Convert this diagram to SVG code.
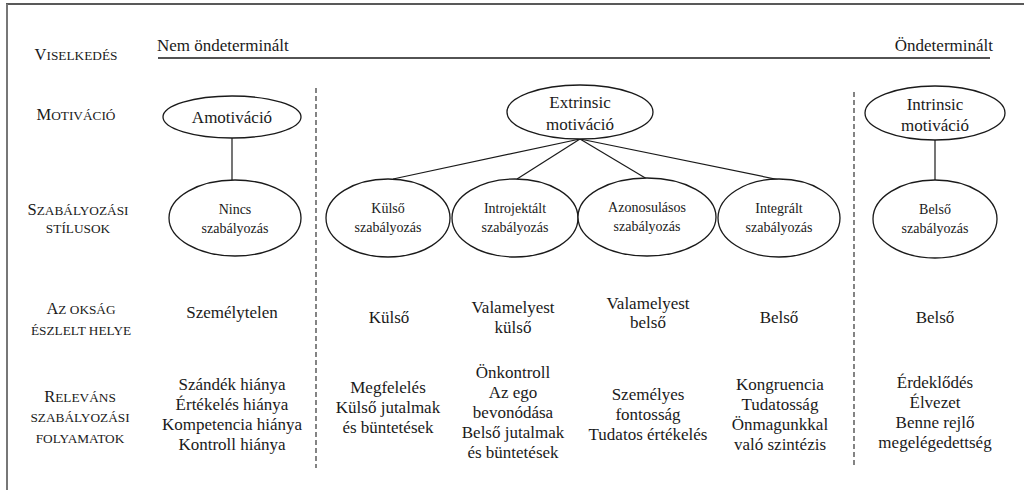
<svg xmlns="http://www.w3.org/2000/svg" width="1024" height="490" viewBox="0 0 1024 490">
<style>
text{font-family:"Liberation Serif","Times New Roman",serif;fill:#1a1a1a;text-anchor:middle}
.lab{font-size:13.3px}
.lab .b{font-size:16.5px}
.t{font-size:17px}
.e{font-size:14px}
.n ellipse{fill:#fff;stroke:#1a1a1a;stroke-width:1.3}
.c line{stroke:#1a1a1a;stroke-width:1.2}
.d{stroke:#333;stroke-width:1.2;stroke-dasharray:5 3}
</style>
<rect x="0" y="0" width="1024" height="490" fill="#fff"/>
<line x1="6" y1="4" x2="1024" y2="4" stroke="#222" stroke-width="1.5"/>
<line x1="7" y1="4" x2="7" y2="490" stroke="#777" stroke-width="2"/>

<g id="labels">
<text class="lab" x="76" y="60"><tspan class="b">V</tspan>ISELKEDÉS</text>
<text class="lab" x="76" y="120"><tspan class="b">M</tspan>OTIVÁCIÓ</text>
<text class="lab" x="78" y="215"><tspan class="b">S</tspan>ZABÁLYOZÁSI</text>
<text class="lab" x="78" y="233">STÍLUSOK</text>
<text class="lab" x="81" y="314"><tspan class="b">A</tspan>Z OKSÁG</text>
<text class="lab" x="81" y="335">ÉSZLELT HELYE</text>
<text class="lab" x="80" y="402"><tspan class="b">R</tspan>ELEVÁNS</text>
<text class="lab" x="80" y="422">SZABÁLYOZÁSI</text>
<text class="lab" x="80" y="443">FOLYAMATOK</text>
</g>

<g id="behavior-axis">
<text class="t" x="157" y="51" style="text-anchor:start">Nem öndeterminált</text>
<text class="t" x="993" y="51" style="text-anchor:end">Öndeterminált</text>
<line x1="158" y1="58" x2="990" y2="58" stroke="#1a1a1a" stroke-width="1.5"/>
</g>

<g id="dividers">
<line class="d" x1="316" y1="88" x2="316" y2="468"/>
<line class="d" x1="854" y1="92" x2="854" y2="465"/>
</g>

<g id="connectors" class="c">
<line x1="232" y1="138" x2="232" y2="180"/>
<line x1="580" y1="139" x2="393" y2="179"/>
<line x1="580" y1="139" x2="517" y2="179"/>
<line x1="580" y1="139" x2="647" y2="179"/>
<line x1="580" y1="139" x2="780" y2="180"/>
<line x1="935" y1="140" x2="935" y2="180"/>
</g>

<g id="amotivacio" class="n">
<ellipse cx="232" cy="117" rx="69" ry="21"/>
<text class="t" x="232" y="123">Amotiváció</text>
</g>
<g id="nincs" class="n">
<ellipse cx="235" cy="218" rx="66" ry="38"/>
<text class="e" x="235" y="214">Nincs</text>
<text class="e" x="235" y="233">szabályozás</text>
</g>
<g id="extrinsic" class="n">
<ellipse cx="580" cy="112" rx="73" ry="27"/>
<text class="t" x="580" y="108">Extrinsic</text>
<text class="t" x="580" y="130">motiváció</text>
</g>
<g id="kulso" class="n">
<ellipse cx="388" cy="218" rx="62" ry="39"/>
<text class="e" x="388" y="213">Külső</text>
<text class="e" x="388" y="232">szabályozás</text>
</g>
<g id="introjektalt" class="n">
<ellipse cx="515" cy="218" rx="63" ry="39"/>
<text class="e" x="515" y="213">Introjektált</text>
<text class="e" x="515" y="232">szabályozás</text>
</g>
<g id="azonosulasos" class="n">
<ellipse cx="647" cy="217" rx="69" ry="39"/>
<text class="e" x="647" y="212">Azonosulásos</text>
<text class="e" x="647" y="231">szabályozás</text>
</g>
<g id="integralt" class="n">
<ellipse cx="779" cy="218" rx="61" ry="39"/>
<text class="e" x="779" y="213">Integrált</text>
<text class="e" x="779" y="232">szabályozás</text>
</g>
<g id="intrinsic" class="n">
<ellipse cx="935" cy="113" rx="70" ry="27"/>
<text class="t" x="935" y="110">Intrinsic</text>
<text class="t" x="935" y="131">motiváció</text>
</g>
<g id="belso-szab" class="n">
<ellipse cx="935" cy="219" rx="62" ry="39"/>
<text class="e" x="935" y="214">Belső</text>
<text class="e" x="935" y="233">szabályozás</text>
</g>

<g id="locus">
<text class="t" x="232" y="318">Személytelen</text>
<text class="t" x="389" y="323">Külső</text>
<text class="t" x="513" y="313">Valamelyest</text>
<text class="t" x="513" y="333">külső</text>
<text class="t" x="648" y="309">Valamelyest</text>
<text class="t" x="648" y="328">belső</text>
<text class="t" x="779" y="323">Belső</text>
<text class="t" x="935" y="323">Belső</text>
</g>

<g id="processes">
<text class="t" x="232" y="390">Szándék hiánya</text>
<text class="t" x="232" y="410">Értékelés hiánya</text>
<text class="t" x="232" y="430">Kompetencia hiánya</text>
<text class="t" x="232" y="450">Kontroll hiánya</text>

<text class="t" x="388" y="393">Megfelelés</text>
<text class="t" x="388" y="413">Külső jutalmak</text>
<text class="t" x="388" y="433">és büntetések</text>

<text class="t" x="513" y="378">Önkontroll</text>
<text class="t" x="513" y="398">Az ego</text>
<text class="t" x="513" y="418">bevonódása</text>
<text class="t" x="513" y="438">Belső jutalmak</text>
<text class="t" x="513" y="458">és büntetések</text>

<text class="t" x="648" y="400">Személyes</text>
<text class="t" x="648" y="420">fontosság</text>
<text class="t" x="648" y="440">Tudatos értékelés</text>

<text class="t" x="780" y="390">Kongruencia</text>
<text class="t" x="780" y="410">Tudatosság</text>
<text class="t" x="780" y="430">Önmagunkkal</text>
<text class="t" x="780" y="450">való szintézis</text>

<text class="t" x="935" y="388">Érdeklődés</text>
<text class="t" x="935" y="408">Élvezet</text>
<text class="t" x="935" y="428">Benne rejlő</text>
<text class="t" x="935" y="448">megelégedettség</text>
</g>
</svg>
